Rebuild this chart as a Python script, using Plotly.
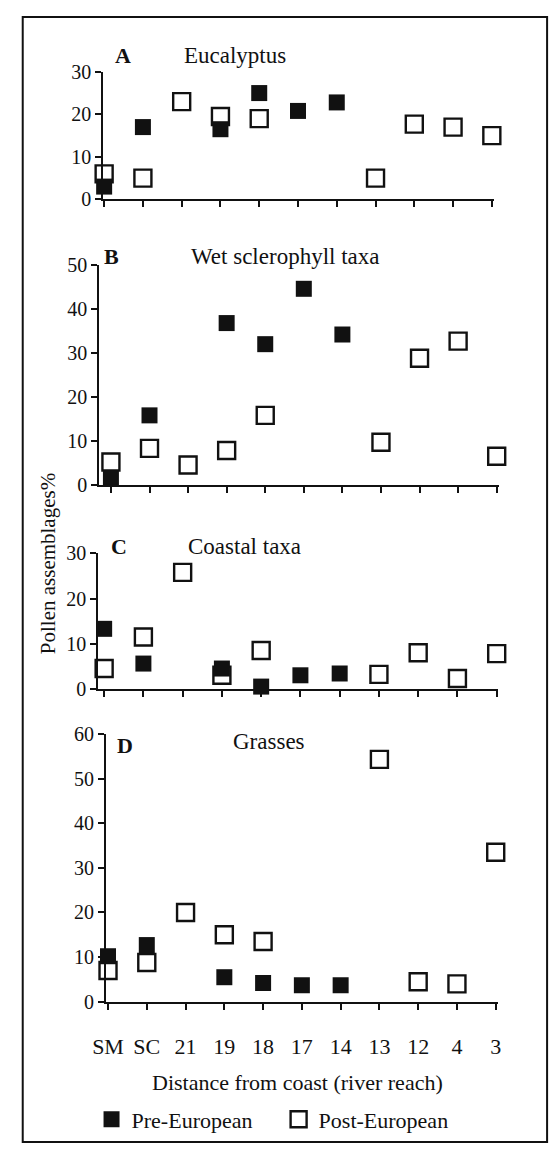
import plotly.graph_objects as go

# ---------------- data ----------------
reaches = ["SM", "SC", "21", "19", "18", "17", "14", "13", "12", "4", "3"]
positions = list(range(len(reaches)))

euc_pre = [3, 17, None, 16.5, 25, 20.8, 22.8, None, None, None, None]
euc_post = [6, 5, 23, 19.5, 19, None, None, 5, 17.7, 17, 15]
wet_pre = [1.5, 15.8, None, 36.8, 32, 44.6, 34.2, None, None, None, None]
wet_post = [5.2, 8.3, 4.5, 7.8, 15.8, None, None, 9.7, 28.8, 32.7, 6.5]
coast_pre = [13.3, 5.6, None, 4.5, 0.5, 3, 3.4, None, None, None, None]
coast_post = [4.5, 11.5, 25.8, 3, 8.5, None, None, 3.2, 8, 2.3, 7.8]
grass_pre = [10.2, 12.7, None, 5.5, 4.2, 3.7, 3.7, None, None, None, None]
grass_post = [7, 8.8, 20, 15, 13.5, None, None, 54.3, 4.5, 4, 33.5]

panel_letters = ["A", "B", "C", "D"]
panel_titles = ["Eucalyptus", "Wet sclerophyll taxa", "Coastal taxa", "Grasses"]
y_max = [30, 50, 30, 60]
series_pre = [euc_pre, wet_pre, coast_pre, grass_pre]
series_post = [euc_post, wet_post, coast_post, grass_post]

# ---------------- layout geometry ----------------
W, H = 553, 1155
FONT = "Liberation Serif"
INK = "#111111"

# top, bottom, left(y-axis), right(axis end), first tick px, last tick px
geom = [
    (62, 192, 92, 495, 93, 493),
    (259, 483, 88, 500, 100, 498),
    (553, 691, 87, 499, 93, 498),
    (737, 1010, 95, 499, 97, 497),
]
letter_pos = [(112, 45), (101, 250), (108, 546), (115, 749)]
title_pos = [(228, 45), (280, 250), (238, 546), (263, 745)]


def px(x):
    return x / W


def py(y):
    return 1 - y / H


fig = go.Figure()
layout = dict(
    width=W, height=H,
    margin=dict(l=0, r=0, t=0, b=0),
    paper_bgcolor="white", plot_bgcolor="white",
    font=dict(family=FONT, size=20, color=INK),
    showlegend=True,
)

annotations = []
for i in range(4):
    top, bot, L, R, T0, T10 = geom[i]
    unit = (T10 - T0) / 10.0
    xr0 = -(T0 - L) / unit
    xr1 = 10 + (R - T10) / unit
    xa = "xaxis" if i == 0 else f"xaxis{i+1}"
    ya = "yaxis" if i == 0 else f"yaxis{i+1}"
    xref = "x" if i == 0 else f"x{i+1}"
    yref = "y" if i == 0 else f"y{i+1}"
    last = i == 3
    layout[xa] = dict(
        domain=[px(L), px(R)], range=[xr0, xr1], anchor=yref,
        showline=True, linecolor=INK, linewidth=2,
        ticks="outside", ticklen=6, tickwidth=2, tickcolor=INK,
        tickmode="array", tickvals=positions,
        ticktext=reaches if last else [""] * len(reaches),
        showticklabels=last,
        tickfont=dict(family=FONT, size=22, color=INK),
        ticklabelstandoff=18 if last else 0,
        showgrid=False, zeroline=False, fixedrange=True,
    )
    layout[ya] = dict(
        domain=[py(bot), py(top)], range=[0, y_max[i]], anchor=xref,
        showline=True, linecolor=INK, linewidth=2,
        ticks="outside", ticklen=6, tickwidth=2, tickcolor=INK,
        tick0=0, dtick=10,
        tickfont=dict(family=FONT, size=20, color=INK),
        showgrid=False, zeroline=False, fixedrange=True,
    )
    fig.add_trace(go.Scatter(
        x=positions, y=series_post[i], mode="markers", xaxis=xref, yaxis=yref,
        name="Post-European", legend="legend2", showlegend=(i == 0),
        cliponaxis=False,
        marker=dict(symbol="square", size=17, color="white",
                    line=dict(color=INK, width=2.4)),
    ))
    fig.add_trace(go.Scatter(
        x=positions, y=series_pre[i], mode="markers", xaxis=xref, yaxis=yref,
        name="Pre-European", legend="legend", showlegend=(i == 0),
        cliponaxis=False,
        marker=dict(symbol="square", size=16, color=INK,
                    line=dict(color=INK, width=0)),
    ))
    lx, ly = letter_pos[i]
    annotations.append(dict(
        text=f"<b>{panel_letters[i]}</b>", x=px(lx), y=py(ly), xref="paper", yref="paper",
        showarrow=False, xanchor="center", yanchor="middle",
        font=dict(family=FONT, size=22, color=INK)))
    tx, ty = title_pos[i]
    annotations.append(dict(
        text=panel_titles[i], x=px(tx), y=py(ty), xref="paper", yref="paper",
        showarrow=False, xanchor="center", yanchor="middle",
        font=dict(family=FONT, size=23, color=INK)))

annotations.append(dict(
    text="Pollen assemblages%", x=px(35), y=py(563), xref="paper", yref="paper",
    showarrow=False, textangle=-90, xanchor="center", yanchor="middle",
    font=dict(family=FONT, size=21, color=INK)))
annotations.append(dict(
    text="Distance from coast (river reach)", x=px(293), y=py(1092), xref="paper", yref="paper",
    showarrow=False, xanchor="center", yanchor="middle",
    font=dict(family=FONT, size=22, color=INK)))

layout["annotations"] = annotations
layout["legend"] = dict(orientation="h", x=px(80), y=py(1130), xanchor="left", yanchor="middle",
                        font=dict(family=FONT, size=22, color=INK), bgcolor="rgba(0,0,0,0)")
layout["legend2"] = dict(orientation="h", x=px(273), y=py(1130), xanchor="left", yanchor="middle",
                         font=dict(family=FONT, size=22, color=INK), bgcolor="rgba(0,0,0,0)")
layout["shapes"] = [dict(type="rect", xref="paper", yref="paper",
                         x0=px(9), x1=px(550), y0=py(1153), y1=py(6),
                         line=dict(color=INK, width=2))]

fig.update_layout(**layout)
fig.write_html(
    "out.html",
    config={"displayModeBar": False},
    post_script="document.body.style.margin='0px';document.body.style.overflow='hidden';",
)
